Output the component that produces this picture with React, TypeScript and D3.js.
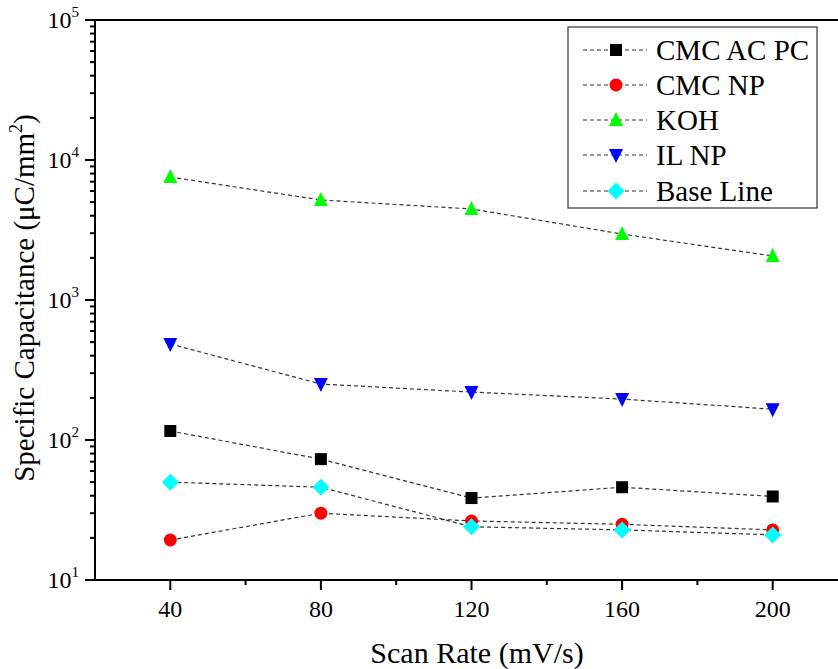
import React from "react";
import * as d3 from "d3";

const scanRates = [40, 80, 120, 160, 200];
const cmcAcPc = [116, 73, 38.5, 46, 39.5];
const cmcNp = [19.3, 30, 26.4, 25, 22.8];
const koh = [7560, 5180, 4470, 2960, 2060];
const ilNp = [485, 251, 220, 196, 166];
const baseLine = [50, 46, 24, 22.8, 21];

const seriesNames = ["CMC AC PC", "CMC NP", "KOH", "IL NP", "Base Line"];
const seriesValues = [cmcAcPc, cmcNp, koh, ilNp, baseLine];
const seriesColors = ["#000000", "#ff0000", "#00ff00", "#0000ff", "#00ffff"];
const seriesShapes = ["square", "circle", "triangle", "triangleDown", "diamond"];

const xMajorTicks = [40, 80, 120, 160, 200];
const xMinorTicks = [60, 100, 140, 180];
const yDecades = [1, 2, 3, 4, 5];

const FONT = "'Liberation Serif', 'Times New Roman', serif";

function Marker({ shape, x, y, color }: { shape: string; x: number; y: number; color: string }) {
  if (shape === "square") {
    return <rect x={x - 6} y={y - 6} width={12} height={12} fill={color} />;
  }
  if (shape === "circle") {
    return <circle cx={x} cy={y} r={6.5} fill={color} />;
  }
  if (shape === "triangle") {
    return <path d={`M${x},${y - 8}L${x + 7},${y + 6}L${x - 7},${y + 6}Z`} fill={color} />;
  }
  if (shape === "triangleDown") {
    return <path d={`M${x},${y + 8}L${x + 7},${y - 6}L${x - 7},${y - 6}Z`} fill={color} />;
  }
  return <path d={`M${x},${y - 8.5}L${x + 8.5},${y}L${x},${y + 8.5}L${x - 8.5},${y}Z`} fill={color} />;
}

export default function App() {
  const W = 838;
  const H = 669;
  const left = 95;
  const top = 20;
  const bottom = 580;
  const right = 848;

  const x = d3.scaleLinear().domain([20, 220]).range([left, right]);
  const y = d3.scaleLog().domain([10, 100000]).range([bottom, top]);

  const yMinor: number[] = [];
  for (let e = 1; e < 5; e++) {
    for (let m = 2; m <= 9; m++) yMinor.push(m * Math.pow(10, e));
  }

  const line = d3
    .line<number>()
    .x((_, i) => x(scanRates[i]))
    .y((v) => y(v));

  const legX = 568;
  const legY = 27;
  const legW = 249;
  const legH = 181;
  const legRowY = [50, 85, 120, 155, 191];

  return (
    <svg
      width={W}
      height={H}
      style={{ position: "absolute", left: 0, top: 0, background: "#fff" }}
      fontFamily={FONT}
    >
      <rect x={0} y={0} width={W} height={H} fill="#fff" />
      {seriesValues.map((vals, si) => (
        <path
          key={"l" + si}
          d={line(vals) || ""}
          fill="none"
          stroke="#333"
          strokeWidth={1.2}
          strokeDasharray="4,3"
        />
      ))}
      {seriesValues.map((vals, si) =>
        vals.map((v, i) => (
          <Marker
            key={"m" + si + "-" + i}
            shape={seriesShapes[si]}
            x={x(scanRates[i])}
            y={y(v)}
            color={seriesColors[si]}
          />
        ))
      )}
      <line x1={left} y1={top} x2={right} y2={top} stroke="#000" strokeWidth={2} />
      <line x1={left} y1={bottom} x2={right} y2={bottom} stroke="#000" strokeWidth={2} />
      <line x1={left} y1={top - 1} x2={left} y2={bottom + 1} stroke="#000" strokeWidth={2} />
      {xMajorTicks.map((t) => (
        <g key={"xt" + t}>
          <line x1={x(t)} y1={bottom} x2={x(t)} y2={bottom + 10} stroke="#000" strokeWidth={2} />
          <text x={x(t)} y={bottom + 37} textAnchor="middle" fontSize={24} fill="#000">
            {t}
          </text>
        </g>
      ))}
      {xMinorTicks.map((t) => (
        <line key={"xm" + t} x1={x(t)} y1={bottom} x2={x(t)} y2={bottom + 5} stroke="#000" strokeWidth={2} />
      ))}
      {yDecades.map((e) => {
        const v = Math.pow(10, e);
        return (
          <g key={"yt" + e}>
            <line x1={left} y1={y(v)} x2={left - 10} y2={y(v)} stroke="#000" strokeWidth={2} />
            <text x={79} y={y(v) + 8} textAnchor="end" fontSize={24} fill="#000">
              10
              <tspan dy={-11} fontSize={15}>
                {e}
              </tspan>
            </text>
          </g>
        );
      })}
      {yMinor.map((v) => (
        <line key={"ym" + v} x1={left} y1={y(v)} x2={left - 5} y2={y(v)} stroke="#000" strokeWidth={2} />
      ))}
      <text x={477} y={663} textAnchor="middle" fontSize={30} fill="#000">
        Scan Rate (mV/s)
      </text>
      <text
        transform={`translate(34, 298) rotate(-90)`}
        textAnchor="middle"
        fontSize={29}
        fill="#000"
      >
        Specific Capacitance (μC/mm
        <tspan dy={-12} fontSize={18}>
          2
        </tspan>
        <tspan dy={12}>)</tspan>
      </text>
      <rect x={legX} y={legY} width={legW} height={legH} fill="#fff" stroke="#333" strokeWidth={1.2} />
      {seriesNames.map((name, si) => (
        <g key={"lg" + si}>
          <line
            x1={583}
            y1={legRowY[si]}
            x2={647}
            y2={legRowY[si]}
            stroke="#333"
            strokeWidth={1.2}
            strokeDasharray="4,3"
          />
          <Marker shape={seriesShapes[si]} x={616} y={legRowY[si]} color={seriesColors[si]} />
          <text x={656} y={legRowY[si] + 10} fontSize={29} fill="#000">
            {name}
          </text>
        </g>
      ))}
    </svg>
  );
}
